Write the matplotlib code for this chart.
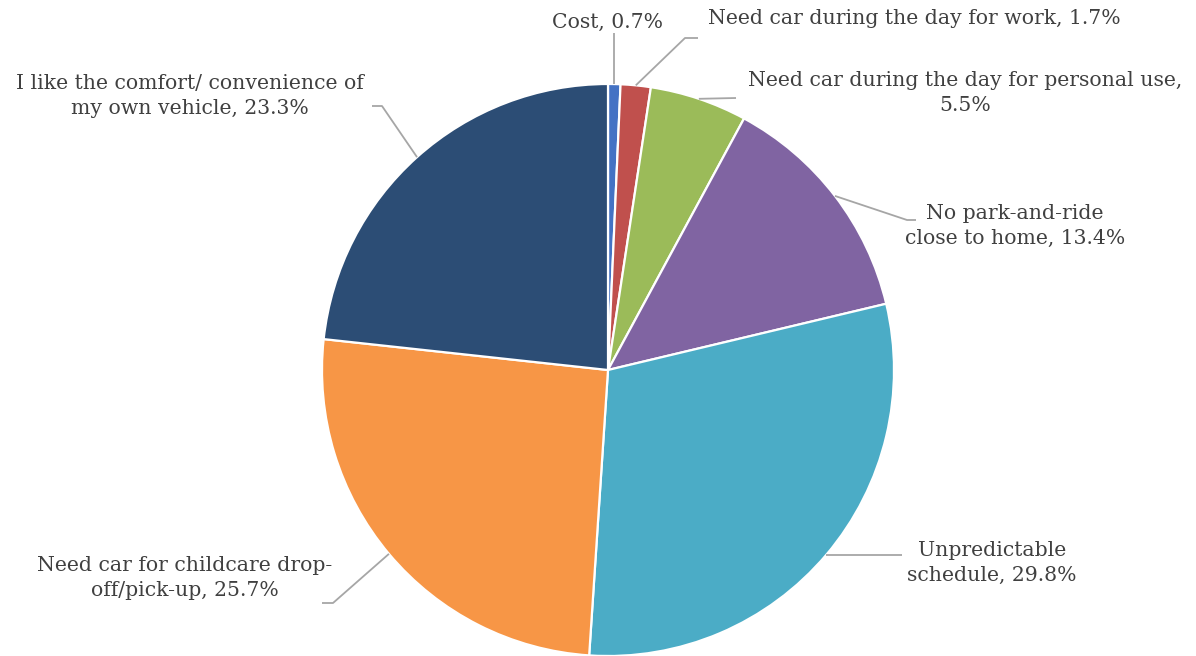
"""Pie chart: reasons for driving instead of using transit (share of respondents)."""

import matplotlib.pyplot as plt
import numpy as np

categories = [
    "Cost",
    "Need car during the day for work",
    "Need car during the day for personal use",
    "No park-and-ride\nclose to home",
    "Unpredictable\nschedule",
    "Need car for childcare drop-\noff/pick-up",
    "I like the comfort/ convenience of\nmy own vehicle",
]
shares = [0.7, 1.7, 5.5, 13.4, 29.8, 25.7, 23.3]
separators = [", ", ", ", ",\n", ", ", ", ", ", ", ", "]

colors = ["#4472C4", "#C0504D", "#9BBB59", "#8064A2", "#4BACC6", "#F79646", "#2C4D75"]

_W, _H = 1196, 656
_CENTER_PX = (608, 370)
_RADIUS_PX = 286
_TEXT_COLOR = "#404040"
_LINE_COLOR = "#A6A6A6"
_FONT = "DejaVu Serif"
_FONT_SIZE = 14.7

# label layout in pixel coordinates (y from top): text anchor, alignment, leader knots
_LABEL_LAYOUT = [
    {"xy": (608, 22), "ha": "center", "knots": [("edge_x", 33)]},
    {"xy": (708, 18), "ha": "left", "knots": [(685, 38), (698, 38)]},
    {"xy": (965, 93), "ha": "center", "knots": [(736, 98)]},
    {"xy": (1015, 226), "ha": "center", "knots": [(907, 220), (916, 220)]},
    {"xy": (992, 563), "ha": "center", "knots": [(902, "edge_y")]},
    {"xy": (185, 578), "ha": "center", "knots": [(333, 603), (322, 603)]},
    {"xy": (190, 96), "ha": "center", "knots": [(382, 106), (372, 106)]},
]


def _px(x, y):
    return x, _H - y


def main() -> None:
    fig = plt.figure(figsize=(_W / 100, _H / 100), dpi=100)
    fig.patch.set_facecolor("white")
    ax = fig.add_axes([0, 0, 1, 1])

    wedges, _ = ax.pie(
        shares,
        colors=colors,
        startangle=90,
        counterclock=False,
        center=_px(*_CENTER_PX),
        radius=_RADIUS_PX,
        wedgeprops={"edgecolor": "white", "linewidth": 1.6},
    )
    ax.set_xlim(0, _W)
    ax.set_ylim(0, _H)
    ax.set_aspect("equal")
    ax.axis("off")

    cx, cy = _px(*_CENTER_PX)
    for wedge, cat, sep, value, layout in zip(wedges, categories, separators, shares, _LABEL_LAYOUT):
        mid = np.deg2rad((wedge.theta1 + wedge.theta2) / 2)
        ex = cx + _RADIUS_PX * np.cos(mid)
        ey = cy + _RADIUS_PX * np.sin(mid)
        xs, ys = [ex], [ey]
        for kx, ky in layout["knots"]:
            px_x = ex if kx == "edge_x" else kx
            px_y = ey if ky == "edge_y" else _H - ky
            xs.append(px_x)
            ys.append(px_y)
        ax.plot(xs, ys, color=_LINE_COLOR, linewidth=1.3, solid_capstyle="butt")

        tx, ty = _px(*layout["xy"])
        ax.text(
            tx,
            ty,
            f"{cat}{sep}{value}%",
            ha=layout["ha"],
            va="center",
            multialignment="center",
            fontsize=_FONT_SIZE,
            family=_FONT,
            color=_TEXT_COLOR,
            linespacing=1.4,
        )

    fig.savefig("out.png", dpi=100, facecolor="white")
    plt.close(fig)


if __name__ == "__main__":
    main()
